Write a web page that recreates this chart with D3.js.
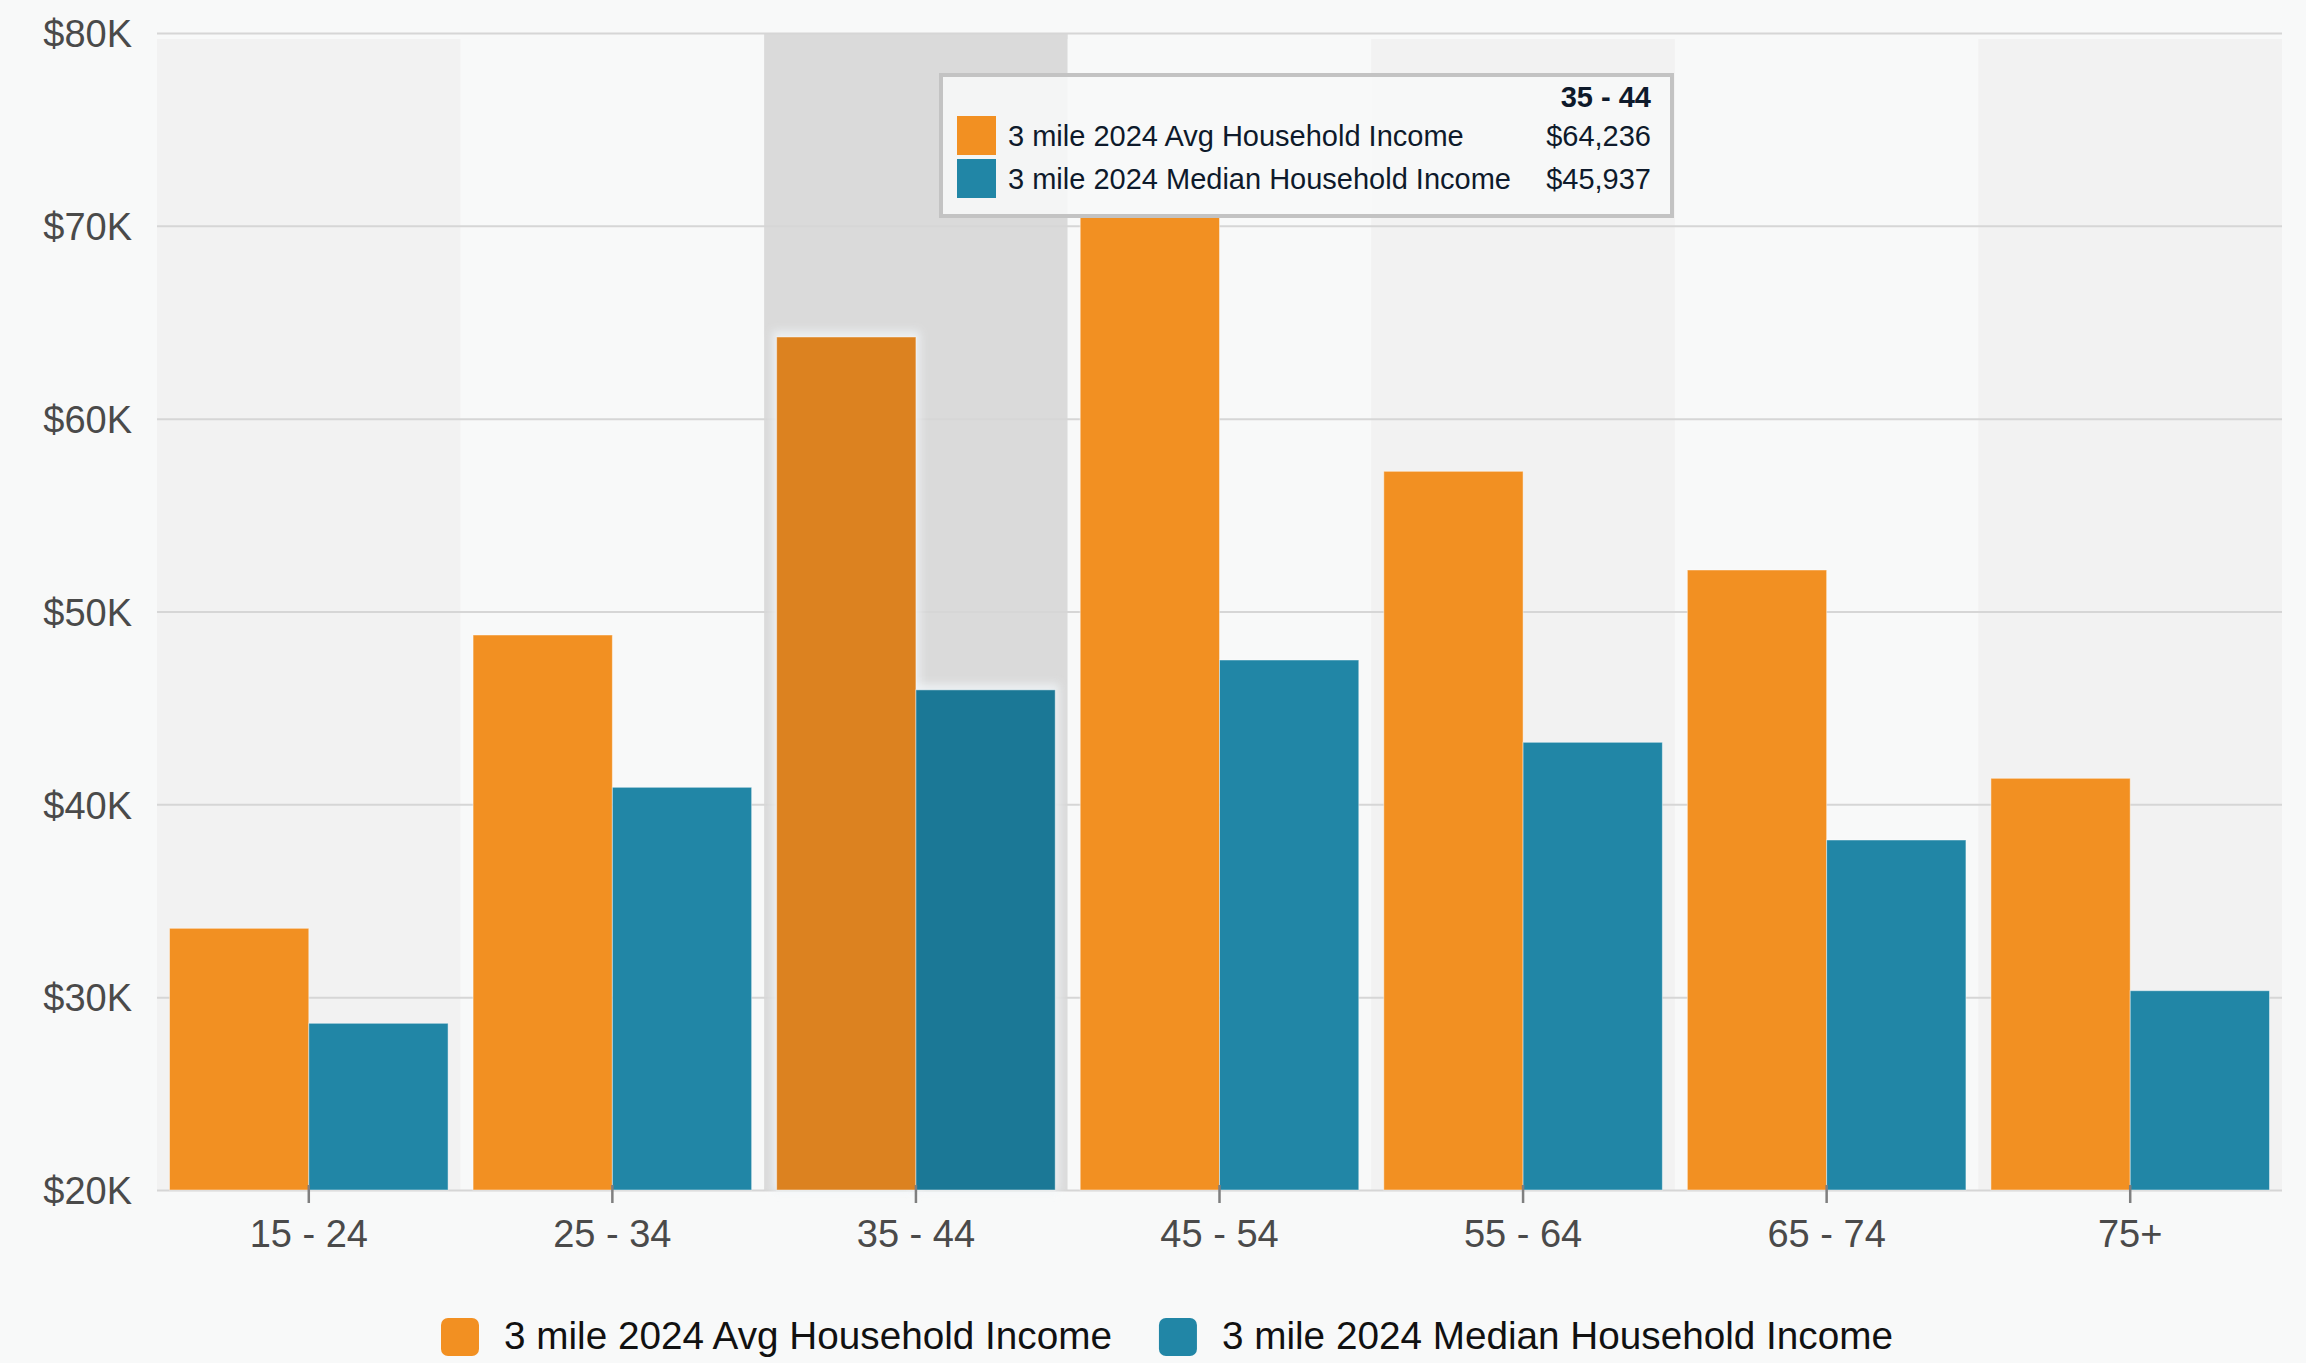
<!DOCTYPE html>
<html>
<head>
<meta charset="utf-8">
<script src="https://cdn.jsdelivr.net/npm/d3@7"></script>
<style>
  html, body { margin: 0; padding: 0; background: #f8f9f9; }
  svg { display: block; font-family: "Liberation Sans", Arial, Helvetica, sans-serif; }
</style>
</head>
<body>
<svg id="chart" width="2306" height="1363"></svg>
<script>
// Household income by age of householder, 3 mile radius, 2024
const categories = ["15 - 24", "25 - 34", "35 - 44", "45 - 54", "55 - 64", "65 - 74", "75+"];
const seriesNames = ["3 mile 2024 Avg Household Income", "3 mile 2024 Median Household Income"];
const avgIncome = [33571, 48781, 64236, 70600, 57270, 52152, 41350];
const medianIncome = [28645, 40883, 45937, 47485, 43217, 38150, 30335];
const yTicks = [20000, 30000, 40000, 50000, 60000, 70000, 80000];
const hoveredCategory = "35 - 44";

const colors = ["#f29022", "#2186a6"];
const hoverColors = ["#dc8220", "#1b7896"];

const W = 2306, H = 1363;
const plot = { left: 157, right: 2282, top: 33, bottom: 1190 };

const svg = d3.select("#chart");
svg.append("rect").attr("width", W).attr("height", H).attr("fill", "#f8f9f9");

const defs = svg.append("defs");
defs.append("filter").attr("id", "glow")
  .attr("x", "-20%").attr("y", "-20%").attr("width", "140%").attr("height", "140%")
  .append("feGaussianBlur").attr("stdDeviation", 4);

const x = d3.scaleBand().domain(categories).range([plot.left, plot.right]).padding(0);
const groupPad = 12.5;
const x1 = d3.scaleBand().domain(seriesNames).range([groupPad, x.bandwidth() - groupPad]).padding(0);
const y = d3.scaleLinear().domain([20000, 80000]).range([plot.bottom, plot.top]);

// alternating category bands, with the hovered one darkened
svg.append("g").selectAll("rect")
  .data(categories)
  .join("rect")
  .attr("x", d => x(d))
  .attr("width", x.bandwidth())
  .attr("y", d => d === hoveredCategory ? plot.top : plot.top + 6)
  .attr("height", d => plot.bottom - (d === hoveredCategory ? plot.top : plot.top + 6))
  .attr("fill", (d, i) => d === hoveredCategory ? "#dadada" : (i % 2 === 0 ? "#f2f2f2" : "#f8f9f9"));

// y axis with gridlines
const yAxis = d3.axisLeft(y)
  .tickValues(yTicks)
  .tickSize(-(plot.right - plot.left))
  .tickPadding(25)
  .tickFormat(v => "$" + (v / 1000) + "K");

const gy = svg.append("g")
  .attr("transform", `translate(${plot.left},0)`)
  .call(yAxis);
gy.select(".domain").remove();
gy.selectAll(".tick line").attr("stroke", "#d6d6d6").attr("stroke-width", 2);
gy.selectAll(".tick text")
  .attr("fill", "#4a4a4a")
  .attr("font-size", 38)
  .attr("dy", "0.36em");

// bars
const rows = categories.map((c, i) => ({ category: c, values: [avgIncome[i], medianIncome[i]] }));

const groups = svg.append("g").selectAll("g")
  .data(rows)
  .join("g")
  .attr("transform", d => `translate(${x(d.category)},0)`);

groups.filter(d => d.category === hoveredCategory)
  .selectAll("rect.halo")
  .data(d => d.values.map((v, k) => ({ v, k })))
  .join("rect")
  .attr("class", "halo")
  .attr("x", d => x1(seriesNames[d.k]) - 4)
  .attr("width", x1.bandwidth() + 8)
  .attr("y", d => y(d.v) - 6)
  .attr("height", d => plot.bottom - y(d.v) + 8)
  .attr("fill", "#f1f5f8")
  .attr("opacity", 0.8)
  .attr("filter", "url(#glow)");

groups.selectAll("rect.bar")
  .data(d => d.values.map((v, k) => ({ v, k, hovered: d.category === hoveredCategory })))
  .join("rect")
  .attr("class", "bar")
  .attr("x", d => x1(seriesNames[d.k]))
  .attr("width", x1.bandwidth())
  .attr("y", d => y(d.v))
  .attr("height", d => plot.bottom - y(d.v))
  .attr("fill", d => d.hovered ? hoverColors[d.k] : colors[d.k])
  .attr("stroke", "#ffffff")
  .attr("stroke-opacity", 0.45)
  .attr("stroke-width", 1);

// x axis
const xAxis = d3.axisBottom(x).tickSize(13).tickPadding(0);
const gx = svg.append("g")
  .attr("transform", `translate(0,${plot.bottom})`)
  .call(xAxis);
gx.select(".domain").remove();
gx.selectAll(".tick line")
  .attr("y1", -5)
  .attr("stroke", "#7f7f7f")
  .attr("stroke-width", 2.5);
gx.selectAll(".tick text")
  .attr("fill", "#4a4a4a")
  .attr("font-size", 38)
  .attr("y", 57)
  .attr("dy", 0);

// legend
const legend = svg.append("g").attr("transform", "translate(441,0)");
let lx = 0;
seriesNames.forEach((name, k) => {
  const item = legend.append("g").attr("transform", `translate(${lx},0)`);
  item.append("rect")
    .attr("x", 0).attr("y", 1318)
    .attr("width", 38).attr("height", 38)
    .attr("rx", 7)
    .attr("fill", colors[k]);
  const t = item.append("text")
    .attr("x", 63).attr("y", 1349)
    .attr("font-size", 38.7)
    .attr("fill", "#111111")
    .text(name);
  lx += 63 + t.node().getComputedTextLength() + 47;
});

// tooltip for the hovered category
const hi = categories.indexOf(hoveredCategory);
const fmt = d3.format("$,.0f");
const tip = svg.append("g");
tip.append("rect")
  .attr("x", 941).attr("y", 75)
  .attr("width", 731).attr("height", 141)
  .attr("fill", "rgba(248,249,249,0.86)")
  .attr("stroke", "#c3c3c3")
  .attr("stroke-width", 4);
tip.append("text")
  .attr("x", 1651).attr("y", 107)
  .attr("text-anchor", "end")
  .attr("font-size", 29)
  .attr("font-weight", "bold")
  .attr("fill", "#0e1a2b")
  .text(hoveredCategory);
const tipValues = [avgIncome[hi], medianIncome[hi]];
seriesNames.forEach((name, k) => {
  const rowY = 116 + k * 43;
  tip.append("rect")
    .attr("x", 957).attr("y", rowY)
    .attr("width", 39).attr("height", 39)
    .attr("fill", colors[k]);
  tip.append("text")
    .attr("x", 1008).attr("y", rowY + 30)
    .attr("font-size", 29)
    .attr("fill", "#0e1a2b")
    .text(name);
  tip.append("text")
    .attr("x", 1651).attr("y", rowY + 30)
    .attr("text-anchor", "end")
    .attr("font-size", 29)
    .attr("fill", "#0e1a2b")
    .text(fmt(tipValues[k]));
});
</script>
</body>
</html>
